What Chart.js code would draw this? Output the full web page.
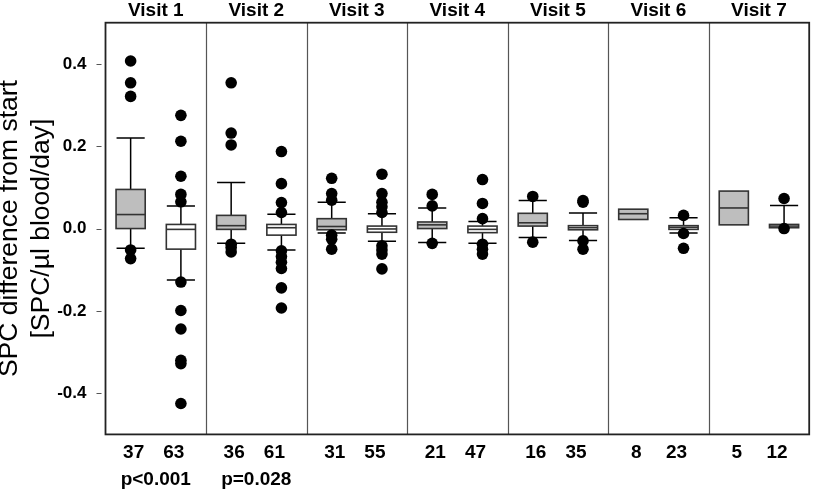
<!DOCTYPE html>
<html>
<head>
<meta charset="utf-8">
<script src="https://cdn.jsdelivr.net/npm/chart.js@4/dist/chart.umd.min.js"></script>
<style>
  body { margin: 0; background: #fff; }
  canvas { display: block; }
</style>
</head>
<body>
<canvas id="boxChart" width="815" height="490"></canvas>
<script>
var visits = ["Visit 1", "Visit 2", "Visit 3", "Visit 4", "Visit 5", "Visit 6", "Visit 7"];
var countsGray = [37, 36, 31, 21, 16, 8, 5];
var countsWhite = [63, 61, 55, 47, 35, 23, 12];
var pValues = ["p<0.001", "p=0.028", "", "", "", "", ""];
var yTicks = [-0.4, -0.2, 0.0, 0.2, 0.4];

// gray boxes
var grayLow = [-0.048, -0.036, -0.011, -0.034, -0.022, 0.022, 0.009];
var grayQ1 = [0.0, -0.002, -0.003, 0.0, 0.006, 0.022, 0.009];
var grayMed = [0.034, 0.007, 0.005, 0.009, 0.014, 0.036, 0.05];
var grayQ3 = [0.095, 0.032, 0.024, 0.016, 0.037, 0.047, 0.091];
var grayHigh = [0.22, 0.112, 0.064, 0.05, 0.068, 0.047, 0.091];
var grayOut = [
  [0.407, 0.354, 0.321, -0.052, -0.073],
  [0.354, 0.232, 0.203, -0.038, -0.046, -0.057],
  [0.122, 0.085, 0.069, -0.016, -0.026, -0.05],
  [0.083, 0.055, -0.036],
  [0.078, -0.033],
  [],
  []
];

// white boxes
var whiteLow = [-0.125, -0.052, -0.031, -0.036, -0.029, -0.011, 0.002];
var whiteQ1 = [-0.05, -0.016, -0.009, -0.01, -0.003, -0.002, 0.002];
var whiteMed = [-0.002, 0.002, -0.001, -0.002, 0.002, 0.003, 0.006];
var whiteQ3 = [0.01, 0.01, 0.006, 0.006, 0.007, 0.007, 0.01];
var whiteHigh = [0.055, 0.035, 0.036, 0.017, 0.038, 0.026, 0.056];
var whiteOut = [
  [0.275, 0.212, 0.127, 0.083, 0.065, -0.13, -0.199, -0.244, -0.32, -0.328, -0.425],
  [0.187, 0.109, 0.063, 0.039, -0.054, -0.068, -0.082, -0.097, -0.144, -0.193],
  [0.132, 0.085, 0.064, 0.053, 0.039, -0.042, -0.052, -0.062, -0.098],
  [0.119, 0.061, 0.024, -0.038, -0.05, -0.062],
  [0.068, 0.064, -0.03, -0.05],
  [0.032, -0.012, -0.048],
  [0.073, 0.0]
];

var FONT = "'Liberation Sans', Arial, Helvetica, sans-serif";
Chart.defaults.font.family = FONT;
Chart.defaults.color = "#000";

function grayPos(i) { return 2 * i + 0.5; }
function whitePos(i) { return 2 * i + 1.5; }

var outlierPoints = [];
visits.forEach(function (v, i) {
  grayOut[i].forEach(function (y) { outlierPoints.push({ x: grayPos(i), y: y }); });
  whiteOut[i].forEach(function (y) { outlierPoints.push({ x: whitePos(i), y: y }); });
});

var bottomTickPos = [];
var bottomTickText = [];
visits.forEach(function (v, i) {
  bottomTickPos.push(grayPos(i) + 0.06);
  bottomTickText.push(String(countsGray[i]));
  bottomTickPos.push(whitePos(i) - 0.14);
  bottomTickText.push(String(countsWhite[i]));
});

function drawBox(ctx, xs, ys, pos, low, q1, med, q3, high, fill) {
  var half = 0.29, capHalf = 0.28;
  var xl = xs.getPixelForValue(pos - half);
  var xr = xs.getPixelForValue(pos + half);
  var xc = xs.getPixelForValue(pos);
  var cl = xs.getPixelForValue(pos - capHalf);
  var cr = xs.getPixelForValue(pos + capHalf);
  var yLow = ys.getPixelForValue(low);
  var yQ1 = ys.getPixelForValue(q1);
  var yMed = ys.getPixelForValue(med);
  var yQ3 = ys.getPixelForValue(q3);
  var yHigh = ys.getPixelForValue(high);

  ctx.strokeStyle = "#000";
  ctx.lineWidth = 1.5;
  if (high > q3) {
    ctx.beginPath();
    ctx.moveTo(xc, yQ3); ctx.lineTo(xc, yHigh);
    ctx.moveTo(cl, yHigh); ctx.lineTo(cr, yHigh);
    ctx.stroke();
  }
  if (low < q1) {
    ctx.beginPath();
    ctx.moveTo(xc, yQ1); ctx.lineTo(xc, yLow);
    ctx.moveTo(cl, yLow); ctx.lineTo(cr, yLow);
    ctx.stroke();
  }
  ctx.fillStyle = fill;
  ctx.fillRect(xl, yQ3, xr - xl, yQ1 - yQ3);
  ctx.strokeStyle = "#333";
  ctx.lineWidth = 1.6;
  ctx.strokeRect(xl, yQ3, xr - xl, yQ1 - yQ3);
  ctx.beginPath();
  ctx.moveTo(xl, yMed); ctx.lineTo(xr, yMed);
  ctx.stroke();
}

var boxPlugin = {
  id: "boxPlugin",
  beforeDatasetsDraw: function (chart) {
    var ctx = chart.ctx;
    var xs = chart.scales.x, ys = chart.scales.y;
    var area = chart.chartArea;
    ctx.save();
    // separators between visits
    ctx.strokeStyle = "#555";
    ctx.lineWidth = 1.2;
    for (var k = 1; k < visits.length; k++) {
      var sx = Math.round(xs.getPixelForValue(2 * k)) + 0.5;
      ctx.beginPath();
      ctx.moveTo(sx, area.top);
      ctx.lineTo(sx, area.bottom);
      ctx.stroke();
    }
    visits.forEach(function (v, i) {
      drawBox(ctx, xs, ys, grayPos(i), grayLow[i], grayQ1[i], grayMed[i], grayQ3[i], grayHigh[i], "#bebebe");
      drawBox(ctx, xs, ys, whitePos(i), whiteLow[i], whiteQ1[i], whiteMed[i], whiteQ3[i], whiteHigh[i], "#ffffff");
    });
    ctx.restore();
  },
  afterDraw: function (chart) {
    var ctx = chart.ctx;
    var xs = chart.scales.x, ys = chart.scales.y;
    var area = chart.chartArea;
    ctx.save();
    // frame
    ctx.strokeStyle = "#222";
    ctx.lineWidth = 1.8;
    ctx.strokeRect(area.left, area.top, area.right - area.left, area.bottom - area.top);
    // y tick marks, detached from the frame
    ctx.strokeStyle = "#555";
    ctx.lineWidth = 1;
    yTicks.forEach(function (t) {
      var ty = Math.round(ys.getPixelForValue(t)) + 0.5;
      ctx.beginPath();
      ctx.moveTo(area.left - 9, ty);
      ctx.lineTo(area.left - 4, ty);
      ctx.stroke();
    });
    // p-values
    ctx.fillStyle = "#000";
    ctx.font = "bold 19px " + FONT;
    ctx.textAlign = "center";
    ctx.textBaseline = "alphabetic";
    pValues.forEach(function (p, i) {
      if (p) ctx.fillText(p, xs.getPixelForValue(2 * i + 1), 485);
    });
    ctx.restore();
  }
};

var chart = new Chart(document.getElementById("boxChart"), {
  type: "scatter",
  data: {
    datasets: [
      {
        label: "outliers",
        data: outlierPoints,
        backgroundColor: "#000",
        borderWidth: 0,
        pointRadius: 5.8,
        pointHoverRadius: 5.8
      }
    ]
  },
  options: {
    responsive: false,
    animation: false,
    events: [],
    layout: { padding: { left: 0, top: 0, right: 2, bottom: 26 } },
    plugins: {
      legend: { display: false },
      tooltip: { enabled: false }
    },
    scales: {
      x: {
        type: "linear",
        position: "bottom",
        min: 0,
        max: 14,
        grid: { display: false, drawTicks: false },
        border: { display: false },
        afterBuildTicks: function (scale) {
          scale.ticks = bottomTickPos.map(function (v) { return { value: v }; });
        },
        afterFit: function (scale) { scale.height = 29.6; },
        ticks: {
          padding: 7,
          autoSkip: false,
          maxRotation: 0,
          font: { size: 19, weight: "bold" },
          callback: function (value, index) { return bottomTickText[index]; }
        }
      },
      x2: {
        type: "linear",
        position: "top",
        min: 0,
        max: 14,
        grid: { display: false, drawTicks: false },
        border: { display: false },
        afterBuildTicks: function (scale) {
          scale.ticks = visits.map(function (v, i) { return { value: 2 * i + 1 }; });
        },
        afterFit: function (scale) { scale.height = 22.7; },
        ticks: {
          padding: 1,
          autoSkip: false,
          maxRotation: 0,
          font: { size: 19, weight: "bold" },
          callback: function (value, index) { return visits[index]; }
        }
      },
      y: {
        min: -0.5,
        max: 0.5,
        grid: { display: false, drawTicks: false },
        border: { display: false },
        afterBuildTicks: function (scale) {
          scale.ticks = yTicks.map(function (v) { return { value: v }; });
        },
        afterFit: function (scale) {
          scale.width = 105.5;
          scale.paddingTop = 0;
          scale.paddingBottom = 0;
        },
        ticks: {
          padding: 19,
          font: { size: 17, weight: "bold" },
          callback: function (value) { return Number(value).toFixed(1); }
        },
        title: {
          display: true,
          text: ["SPC difference from start", "[SPC/\u00b5l blood/day]"],
          font: { size: 26.5, weight: "normal" },
          color: "#000",
          padding: { top: -6, bottom: 0 }
        }
      }
    }
  },
  plugins: [boxPlugin]
});
</script>
</body>
</html>
